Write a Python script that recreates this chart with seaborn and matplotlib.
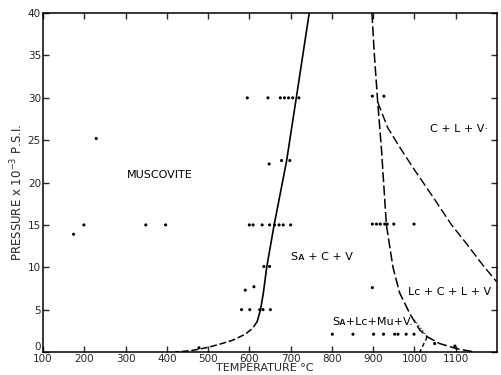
import matplotlib
matplotlib.use("Agg")
import matplotlib.pyplot as plt
import seaborn as sns
import pandas as pd

# ---- data ----
pt_temp = [595, 645, 675, 685, 695, 705, 720, 898, 926,
           229,
           648, 678, 698,
           199, 349, 397, 600, 609, 631, 649, 661, 672, 682, 700,
           898, 908, 917, 928, 934, 950, 999,
           174,
           635, 649,
           590, 611, 898,
           581, 601, 625, 633, 651,
           801, 851, 901, 925, 952, 960, 980, 999,
           1049, 1098, 478]
pt_pres = [30, 30, 30, 30, 30, 30, 30, 30.2, 30.2,
           25.2,
           22.2, 22.6, 22.6,
           15, 15, 15, 15, 15, 15, 15, 15, 15, 15, 15,
           15.1, 15.1, 15.1, 15.1, 15.1, 15.1, 15.1,
           13.9,
           10.1, 10.1,
           7.3, 7.7, 7.6,
           5, 5, 5, 5, 5,
           2.1, 2.1, 2.1, 2.1, 2.1, 2.1, 2.1, 2.1,
           1.0, 0.7, 0.5]

solid_T = [745, 720, 690, 660, 642, 634, 627, 619]
solid_P = [40, 32, 22.5, 15, 10, 7, 5, 3.6]
low_T = [619, 608, 590, 560, 530, 504, 480, 463, 440, 420]
low_P = [3.6, 2.8, 2.1, 1.4, 0.95, 0.6, 0.35, 0.2, 0.08, 0.0]
curveA_T = [897, 903, 911, 920, 932, 948, 964, 989, 1013, 1031, 1061, 1102, 1140]
curveA_P = [40, 35, 29.5, 24, 15, 10, 7, 4.5, 2.6, 1.8, 1.0, 0.4, 0.05]
curveB_T = [911, 935, 964, 1000, 1045, 1090, 1126, 1165, 1199]
curveB_P = [29.5, 26.5, 24.2, 21.5, 18.3, 15, 12.8, 10.3, 8.3]
short_T = [1031, 1013]
short_P = [1.8, 0.0]
dot_T = [1000, 1031]
dot_P = [3.8, 1.8]

x_ticks = [100, 200, 300, 400, 500, 600, 700, 800, 900, 1000, 1100]
y_ticks = [0, 5, 10, 15, 20, 25, 30, 35, 40]

labels = ["MUSCOVITE", "S\u1d00 + C + V", "C + L + V\u00b7", "L\u1d04 + C + L + V", "S\u1d00+L\u1d04+Mu+V."]
label_T = [383, 775, 1108, 1085, 900]
label_P = [20.9, 11.2, 26.3, 7.1, 3.5]

# ---- figure ----
sns.set_theme(style="ticks")
plt.rcParams['font.family'] = ['DejaVu Sans']
fig = plt.figure(figsize=(5.02, 3.75), dpi=100)
ax = fig.add_axes([0.0857, 0.0613, 0.9043, 0.9037])

df_pts = pd.DataFrame({"T": pt_temp, "P": pt_pres})
sns.scatterplot(data=df_pts, x="T", y="P", ax=ax, color="black", s=5, edgecolor="none", legend=False)

def draw(T, P, **kw):
    d = pd.DataFrame({"T": T, "P": P})
    sns.lineplot(data=d, x="T", y="P", ax=ax, sort=False, estimator=None, color="black", **kw)

draw(solid_T, solid_P, linewidth=1.2)
draw(low_T, low_P, linewidth=1.1, linestyle=(0, (4.5, 1.8)))
draw(curveA_T, curveA_P, linewidth=1.1, linestyle=(0, (6.5, 2.2)))
draw(curveB_T, curveB_P, linewidth=1.0, linestyle=(0, (6.5, 2.5)))
draw(short_T, short_P, linewidth=1.0, linestyle=(0, (3, 2)))
draw(dot_T, dot_P, linewidth=0.8, linestyle=(0, (1, 2)))

for t, x, y in zip(labels, label_T, label_P):
    ax.text(x, y, t, fontsize=8, ha="center", va="center", color="black")

ax.set_xlim(100, 1200)
ax.set_ylim(0, 40)
ax.set_xticks(x_ticks)
ax.set_xticklabels([str(v) for v in x_ticks])
ax.set_yticks(y_ticks)
ax.set_yticklabels([str(v) for v in y_ticks])
ax.get_yticklabels()[0].set_va("bottom")
ax.tick_params(direction="in", top=True, right=True, length=4, width=1, labelsize=7.5, pad=1.5)
for s in ax.spines.values():
    s.set_linewidth(1.1)
    s.set_color("black")
ax.set_xlabel("TEMPERATURE \u00b0C", fontsize=8)
ax.xaxis.set_label_coords(0.489, -0.048)
ax.xaxis.label.set_va("center")
ax.set_ylabel("PRESSURE x 10$^{-3}$ P.S.I.", fontsize=8.5)
ax.yaxis.set_label_coords(-0.058, 0.47)
ax.yaxis.label.set_va("center")

fig.savefig("out.png", dpi=100)
